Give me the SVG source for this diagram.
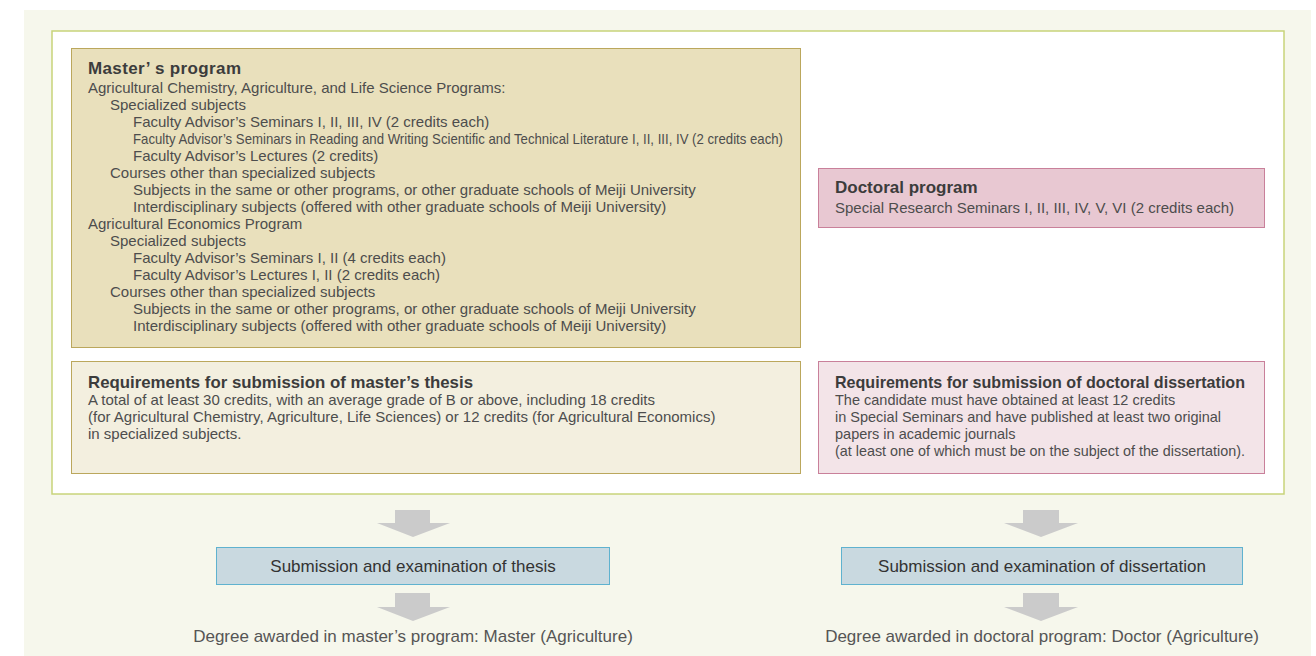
<svg xmlns="http://www.w3.org/2000/svg" width="1316" height="656" viewBox="0 0 1316 656">
<style>
text{font-family:"Liberation Sans",Arial,sans-serif;fill:#4d4d4d;font-size:15px}
.t{font-weight:bold;font-size:17px;fill:#3c3c3c}
.s{font-size:14.5px}
.c{font-size:17px;fill:#333;text-anchor:middle}
.d{font-size:17px;fill:#555;text-anchor:middle}
.arr{fill:#cbcbcb}
</style>
<rect x="0" y="0" width="1316" height="656" fill="#ffffff"/>
<rect x="24" y="10" width="1287" height="646" fill="#f6f7ec"/>
<rect x="52" y="31" width="1232" height="463" fill="#ffffff" stroke="#c8d47a" stroke-width="1.5"/>
<g id="master">
<rect x="71.5" y="48.5" width="729" height="299" fill="#e9e0bc" stroke="#bba75c"/>
<text class="t" x="88" y="74" textLength="153" lengthAdjust="spacing">Master’ s program</text>
<text x="88" y="93">Agricultural Chemistry, Agriculture, and Life Science Programs:</text>
<text x="110" y="110">Specialized subjects</text>
<text x="133" y="127">Faculty Advisor’s Seminars I, II, III, IV (2 credits each)</text>
<text x="133" y="144" textLength="650" lengthAdjust="spacingAndGlyphs">Faculty Advisor’s Seminars in Reading and Writing Scientific and Technical Literature I, II, III, IV (2 credits each)</text>
<text x="133" y="161">Faculty Advisor’s Lectures (2 credits)</text>
<text x="110" y="178">Courses other than specialized subjects</text>
<text x="133" y="195">Subjects in the same or other programs, or other graduate schools of Meiji University</text>
<text x="133" y="212">Interdisciplinary subjects (offered with other graduate schools of Meiji University)</text>
<text x="88" y="229">Agricultural Economics Program</text>
<text x="110" y="246">Specialized subjects</text>
<text x="133" y="263">Faculty Advisor’s Seminars I, II (4 credits each)</text>
<text x="133" y="280">Faculty Advisor’s Lectures I, II (2 credits each)</text>
<text x="110" y="297">Courses other than specialized subjects</text>
<text x="133" y="314">Subjects in the same or other programs, or other graduate schools of Meiji University</text>
<text x="133" y="331">Interdisciplinary subjects (offered with other graduate schools of Meiji University)</text>
</g>
<g id="master-req">
<rect x="71.5" y="361.5" width="729" height="112" fill="#f3efdf" stroke="#bba75c"/>
<text class="t" x="88" y="388" textLength="385" lengthAdjust="spacingAndGlyphs">Requirements for submission of master’s thesis</text>
<text x="88" y="405">A total of at least 30 credits, with an average grade of B or above, including 18 credits</text>
<text x="88" y="422">(for Agricultural Chemistry, Agriculture, Life Sciences) or 12 credits (for Agricultural Economics)</text>
<text x="88" y="439">in specialized subjects.</text>
</g>
<g id="doctoral">
<rect x="818.5" y="168.5" width="446" height="59" fill="#e8c8d2" stroke="#c9809a"/>
<text class="t" x="835" y="193">Doctoral program</text>
<text x="835" y="213">Special Research Seminars I, II, III, IV, V, VI (2 credits each)</text>
</g>
<g id="doctoral-req">
<rect x="818.5" y="361.5" width="446" height="112" fill="#f3e4e8" stroke="#c9809a"/>
<text class="t" x="835" y="388" textLength="410" lengthAdjust="spacingAndGlyphs">Requirements for submission of doctoral dissertation</text>
<text class="s" x="835" y="405">The candidate must have obtained at least 12 credits</text>
<text class="s" x="835" y="422">in Special Seminars and have published at least two original</text>
<text class="s" x="835" y="439">papers in academic journals</text>
<text class="s" x="835" y="456" textLength="410" lengthAdjust="spacingAndGlyphs">(at least one of which must be on the subject of the dissertation).</text>
</g>
<g id="connectors">
<polygon class="arr" points="395,510 430,510 430,523 450,523 413,537 377,523 395,523"/>
<polygon class="arr" points="395,593 430,593 430,607 450,607 413,621 377,607 395,607"/>
<polygon class="arr" points="1023,510 1059,510 1059,523 1078,523 1041,537 1004,523 1023,523"/>
<polygon class="arr" points="1023,593 1059,593 1059,607 1078,607 1041,621 1004,607 1023,607"/>
</g>
<g id="thesis-exam">
<rect x="216.5" y="547.5" width="393" height="37" fill="#c9d9e0" stroke="#5fb2cf"/>
<text class="c" x="413" y="572">Submission and examination of thesis</text>
</g>
<g id="dissertation-exam">
<rect x="841.5" y="547.5" width="401" height="37" fill="#c9d9e0" stroke="#5fb2cf"/>
<text class="c" x="1042" y="572">Submission and examination of dissertation</text>
</g>
<g id="master-degree">
<text class="d" x="413" y="642">Degree awarded in master’s program: Master (Agriculture)</text>
</g>
<g id="doctor-degree">
<text class="d" x="1042" y="642">Degree awarded in doctoral program: Doctor (Agriculture)</text>
</g>
</svg>
